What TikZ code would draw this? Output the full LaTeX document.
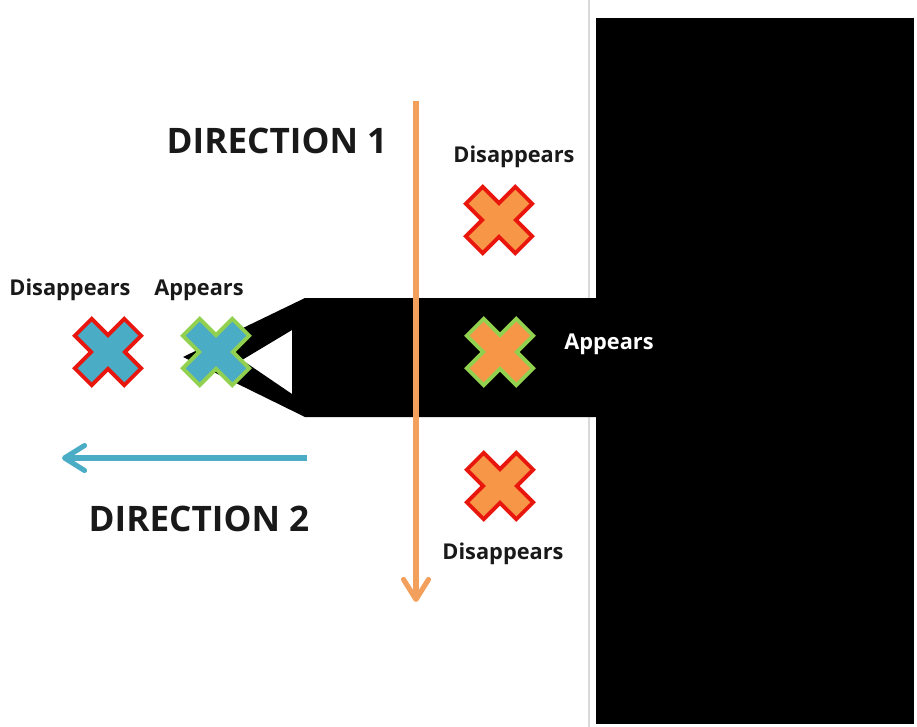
\documentclass[tikz,border=0pt]{standalone}
\usepackage{fontspec}
\setmainfont{Open Sans}
\usepackage{xcolor}
\usetikzlibrary{arrows.meta}
\definecolor{xblue}{HTML}{4BACC6}
\definecolor{xorange}{HTML}{F79646}
\definecolor{xgreen}{HTML}{92D050}
\definecolor{xred}{HTML}{E8160C}
\definecolor{arrorange}{HTML}{F2A05C}
\tikzset{
	pics/xmark/.style 2 args={code={
		\filldraw[fill=#1,draw=#2,line width=2.2pt,rotate=45]
		(12,12)--(35,12)--(35,-12)--(12,-12)--(12,-35)--(-12,-35)--(-12,-12)
		--(-35,-12)--(-35,12)--(-12,12)--(-12,35)--(12,35)--cycle;}},
	tag/.style={font=\bfseries\fontsize{12.4}{14}\selectfont,text=black!90},
	heading/.style={font=\bfseries\fontsize{20}{24}\selectfont,text=black!90},
	dirarrow/.style={line width=2.9pt,-{Straight Barb[length=4mm,width=5mm,round]}}
}
\begin{document}
\begin{tikzpicture}[x=0.02cm,y=-0.02cm]
			\useasboundingbox (0,0) rectangle (917,727);
			% Vẽ khối đen
			\draw[black!15,line width=0.8pt] (589,0)--(589,727);
			\fill[black] (596,18) rectangle (914,724);
			\fill[black,even odd rule] (305,298)--(183,357)--(305,417)--(600,417)--(600,298)--cycle
				(292,330)--(242,360)--(292,394)--cycle;
			% Vẽ mũi tên
			\coordinate (o1) at (416,101);
			\coordinate (o2) at (416,602);
			\coordinate (b1) at (307,458);
			\coordinate (b2) at (62,458);
			\draw[dirarrow,arrorange] (o1)--(o2);
			\draw[dirarrow,xblue] (b1)--(b2);
			% Vẽ dấu X
			\pic (xl) at (108,352) {xmark={xblue}{xred}};
			\pic (xa) at (216,352) {xmark={xblue}{xgreen}};
			\pic (xt) at (499,220) {xmark={xorange}{xred}};
			\pic (xm) at (500,352) {xmark={xorange}{xgreen}};
			\pic (xb) at (500,486) {xmark={xorange}{xred}};
			% Chữ
			\node[heading] (dir1) at (277,141) {DIRECTION 1};
			\node[heading] (dir2) at (199,519) {DIRECTION 2};
			\node[tag] (dtop) at (514,157) {Disappears};
			\node[tag] (dleft) at (70,290) {Disappears};
			\node[tag] (aleft) at (199,290) {Appears};
			\node[tag,text=white] (amid) at (609,344) {Appears};
			\node[tag] (dbot) at (503,554) {Disappears};
		\end{tikzpicture}
\end{document}
